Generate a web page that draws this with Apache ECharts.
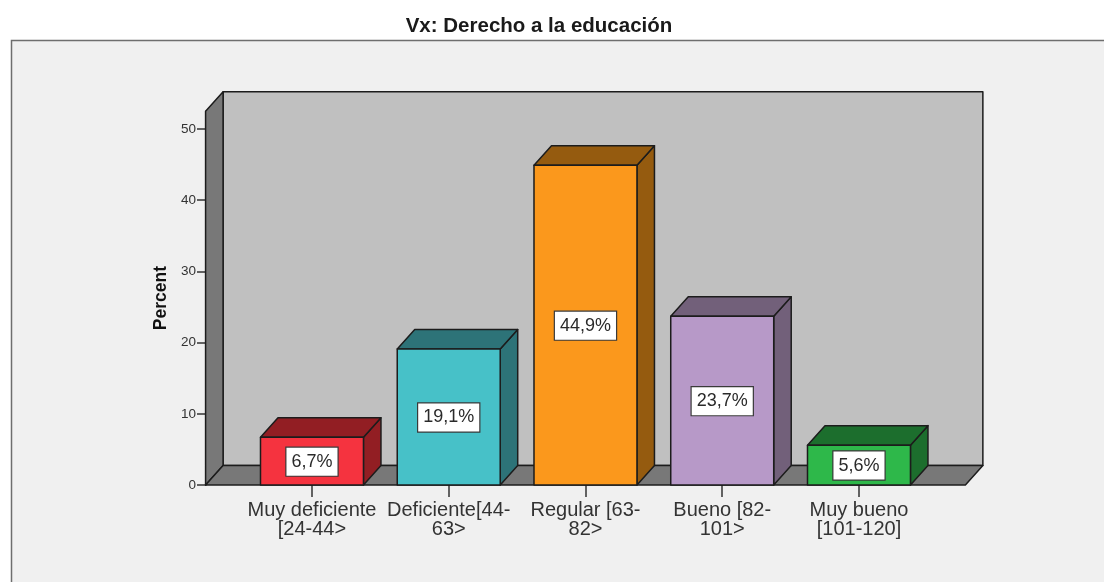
<!DOCTYPE html>
<html>
<head>
<meta charset="utf-8">
<style>html,body{margin:0;padding:0;background:#fff}#c{width:1104px;height:582px}</style>
<script src="https://cdn.jsdelivr.net/npm/echarts@6/dist/echarts.min.js"></script>
</head>
<body>
<div id="c"></div>
<script>
var categories = ['Muy deficiente\n[24-44>', 'Deficiente[44-\n63>', 'Regular [63-\n82>', 'Bueno [82-\n101>', 'Muy bueno\n[101-120]'];
var percentValues = [6.7, 19.1, 44.9, 23.7, 5.6];
var percentLabels = ['6,7%', '19,1%', '44,9%', '23,7%', '5,6%'];
var yTicks = [0, 10, 20, 30, 40, 50];
var yMax = 52.5;
var frontColors = ['#f5333f', '#47c1c8', '#fb981c', '#b799c8', '#2eb84a'];
var sideColors = ['#921e23', '#2d7378', '#955b0f', '#72607a', '#1c6e2d'];

var DX = 17.5, DY = -19.5, EDGE = '#1c1c1c', LW = 1.5;
var FONT = '"Liberation Sans", Arial, sans-serif';

function poly(points, fill) {
  return { type: 'polygon', shape: { points: points },
    style: { fill: fill, stroke: EDGE, lineWidth: LW, lineJoin: 'round' } };
}

function renderWalls(params, api) {
  var band = api.size([1, 0])[0];
  var pad = band * 0.278;
  var y0 = api.coord([0, 0])[1];
  var yT = api.coord([0, yMax])[1];
  var l = api.coord([0, 0])[0] - band / 2 - pad;
  var r = api.coord([categories.length - 1, 0])[0] + band / 2 + pad;
  return { type: 'group', children: [
    poly([[l + DX, yT + DY], [r + DX, yT + DY], [r + DX, y0 + DY], [l + DX, y0 + DY]], '#c0c0c0'),
    poly([[l, y0], [l, yT], [l + DX, yT + DY], [l + DX, y0 + DY]], '#787878'),
    poly([[l, y0], [l + DX, y0 + DY], [r + DX, y0 + DY], [r, y0]], '#787878')
  ] };
}

function renderBar(params, api) {
  var i = api.value(0), v = api.value(1);
  var band = api.size([1, 0])[0];
  var w = band * 0.753;
  var c = api.coord([i, v]);
  var y0 = api.coord([i, 0])[1];
  var x1 = c[0] - w / 2, x2 = c[0] + w / 2, yT = c[1];
  return { type: 'group', children: [
    poly([[x2, y0], [x2, yT], [x2 + DX, yT + DY], [x2 + DX, y0 + DY]], sideColors[i]),
    poly([[x1, yT], [x1 + DX, yT + DY], [x2 + DX, yT + DY], [x2, yT]], sideColors[i]),
    poly([[x1, yT], [x2, yT], [x2, y0], [x1, y0]], frontColors[i]),
    { type: 'text', z2: 10, style: {
      text: percentLabels[i], x: c[0], y: (yT + y0) / 2 + 0.5, align: 'center', verticalAlign: 'middle',
      font: '18px ' + FONT, fill: '#2a2a2a', backgroundColor: '#ffffff',
      borderColor: '#3a3a3a', borderWidth: 1.2, padding: [6, 5, 4, 5]
    } }
  ] };
}

var chart = echarts.init(document.getElementById('c'), null, { renderer: 'canvas' });
chart.setOption({
  animation: false,
  backgroundColor: '#ffffff',
  title: {
    text: 'Vx: Derecho a la educación', left: 534, top: 11, textAlign: 'center',
    textStyle: { fontFamily: FONT, fontSize: 20.5, fontWeight: 'bold', color: '#1a1a1a' }
  },
  graphic: [{
    type: 'rect', z: -10, silent: true,
    shape: { x: 11.5, y: 40.5, width: 1120, height: 570 },
    style: { fill: '#f0f0f0', stroke: '#6e6e6e', lineWidth: 1.5 }
  }],
  grid: { left: 243.6, width: 683.75, top: 111.2, height: 373.8 },
  xAxis: {
    type: 'category', data: categories,
    axisLine: { show: false },
    axisTick: { show: true, alignWithLabel: true, length: 12, lineStyle: { color: '#333', width: 1.5 } },
    axisLabel: { interval: 0, fontFamily: FONT, fontSize: 20, lineHeight: 19, color: '#333', margin: 16, hideOverlap: false }
  },
  yAxis: {
    type: 'value', min: 0, max: yMax, offset: 37.6,
    name: 'Percent', nameLocation: 'middle', nameGap: 36, nameRotate: 90,
    nameTextStyle: { fontFamily: FONT, fontSize: 17.5, fontWeight: 'bold', color: '#111' },
    splitLine: { show: false },
    axisLine: { show: true, lineStyle: { color: '#1c1c1c', width: 1.5 } },
    axisTick: { show: true, length: 9, customValues: yTicks, lineStyle: { color: '#333', width: 1.5 } },
    axisLabel: { customValues: yTicks, fontFamily: FONT, fontSize: 13.5, color: '#333', margin: 10 }
  },
  series: [
    { type: 'custom', name: 'walls', renderItem: renderWalls, silent: true, z: 1, data: [[0, 0]],
      encode: { x: 0, y: 1 } },
    { type: 'custom', name: 'Percent', renderItem: renderBar, z: 3,
      data: percentValues.map(function (v, i) { return [i, v]; }),
      encode: { x: 0, y: 1 } }
  ]
});
</script>
</body>
</html>
